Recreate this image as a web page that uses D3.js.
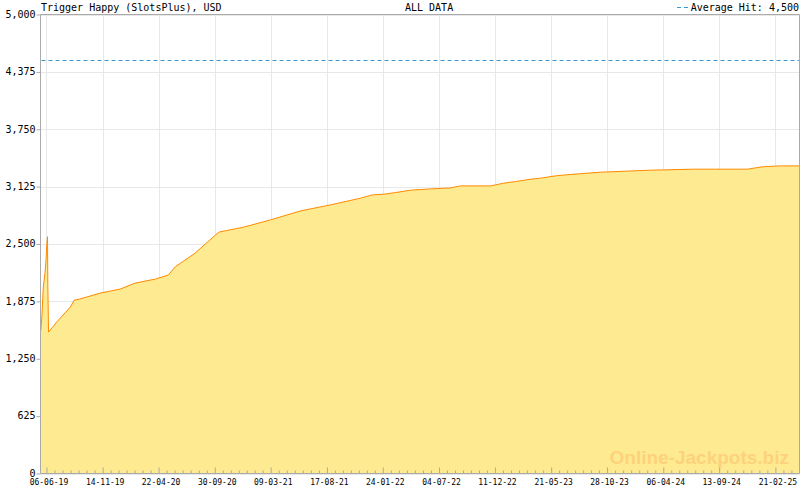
<!DOCTYPE html>
<html><head><meta charset="utf-8">
<script src="https://cdn.jsdelivr.net/npm/d3@7"></script>
<style>body{margin:0;background:#fff}svg{display:block}text{font-family:"DejaVu Sans Mono",monospace}</style>
</head><body><svg id="c" width="800" height="490"></svg>
<script>
const title = "Trigger Happy (SlotsPlus), USD";
const subtitle = "ALL DATA";
const avgLabel = "Average Hit: 4,500";
const avgValue = 4500;
const dates = ["2019-05-21","2019-05-24","2019-05-28","2019-06-02","2019-06-05","2019-06-07","2019-06-09","2019-06-10","2019-06-12",
"2019-07-05","2019-08-13","2019-08-25","2019-09-08","2019-09-28","2019-11-07","2020-01-03","2020-02-15","2020-04-13","2020-05-20",
"2020-06-09","2020-08-05","2020-10-02","2020-10-13","2020-12-21","2021-03-08","2021-06-02","2021-08-27","2021-11-21","2021-12-25",
"2022-01-26","2022-03-01","2022-04-13","2022-06-09","2022-08-06","2022-09-03","2022-11-29","2023-01-04","2023-02-08","2023-03-23",
"2023-04-20","2023-06-02","2023-07-01","2023-08-07","2023-10-09","2023-12-20","2024-02-29","2024-07-01","2024-12-03","2025-01-15",
"2025-03-07","2025-04-30"];
const values = [1560,1714,2031,2183,2336,2489,2580,2052,1540,
1648,1812,1889,1900,1921,1965,2009,2074,2118,2162,
2252,2402,2598,2631,2683,2762,2860,2926,2999,3035,
3042,3060,3086,3100,3111,3133,3133,3162,3180,3206,
3217,3242,3253,3264,3282,3293,3304,3315,3315,3341,
3351,3351];
const xTickLabels = ["06-06-19","14-11-19","22-04-20","30-09-20","09-03-21","17-08-21","24-01-22","04-07-22","11-12-22","21-05-23","28-10-23","06-04-24","13-09-24","21-02-25"];
const yTicks = [0,625,1250,1875,2500,3125,3750,4375,5000];

const svg = d3.select("#c");
const L=40.5, R=799.5, T=14.5, B=473.5;
const parse = d3.timeParse("%Y-%m-%d");
const parseTick = d3.timeParse("%d-%m-%y");
const data = dates.map((d,i)=>({d:parse(d), v:values[i]}));
const tickDates = xTickLabels.map(parseTick);
const x = d3.scaleTime().domain([parse("2019-05-20"), parse("2025-05-01")]).range([L,R]);
const y = d3.scaleLinear().domain([0,5000]).range([B,T]);

// grid
svg.append("g").selectAll("line").data(yTicks).join("line")
  .attr("x1",L).attr("x2",R).attr("y1",d=>Math.round(y(d))+0.5).attr("y2",d=>Math.round(y(d))+0.5)
  .attr("stroke","#e8e8e8");
svg.append("g").selectAll("line").data(tickDates).join("line")
  .attr("x1",d=>Math.round(x(d))+0.5).attr("x2",d=>Math.round(x(d))+0.5).attr("y1",T).attr("y2",B)
  .attr("stroke","#e8e8e8");

// area + line
const area = d3.area().x(d=>x(d.d)).y0(y(0)).y1(d=>y(d.v));
const line = d3.line().x(d=>x(d.d)).y(d=>y(d.v));
svg.append("path").datum(data).attr("d",area).attr("fill","#feea90");
svg.append("path").datum(data).attr("d",line).attr("fill","none").attr("stroke","#ff8a00").attr("stroke-width",1);

// watermark
svg.append("text").attr("x",789).attr("y",464).attr("text-anchor","end")
  .style("font-family","'Liberation Sans',Arial,sans-serif").style("font-weight","bold").style("font-size","19px")
  .attr("fill","#fdd27c").text("Online-Jackpots.biz");

// average line
svg.append("line").attr("x1",L+1).attr("x2",R).attr("y1",Math.round(y(avgValue))+0.5).attr("y2",Math.round(y(avgValue))+0.5)
  .attr("stroke","#3a9ad0").attr("stroke-dasharray","4,3");

// border
svg.append("path").attr("d",`M${L},${B}V${T}H${R}V${B}H${L}`).attr("fill","none").attr("stroke","#aaaaaa");

// y axis
const yAxis = d3.axisLeft(y).tickValues(yTicks).tickSize(4).tickSizeOuter(0).tickFormat(d3.format(","));
const gy = svg.append("g").attr("transform",`translate(${L},0)`).call(yAxis);
gy.select(".domain").remove();
gy.selectAll(".tick line").attr("stroke","#aaaaaa");
gy.selectAll("text").style("font-size","10px").style("font-family","'DejaVu Sans Mono',monospace").attr("fill","#000").attr("x",-5).attr("dy","0.28em");

// x axis major ticks (inward)
const minor = [];
for(let i=0;i<tickDates.length-1;i++){
  const a=x(tickDates[i]), b=x(tickDates[i+1]);
  for(let k=1;k<7;k++) minor.push(x.invert(a+(b-a)*k/7));
}
{
  const n=tickDates.length; const step=(x(tickDates[n-1])-x(tickDates[0]))/((n-1)*7);
  for(let p=x(tickDates[n-1])+step;p<R;p+=step) minor.push(x.invert(p));
}
const gxMinor = svg.append("g").attr("transform",`translate(0,${B})`)
  .call(d3.axisTop(x).tickValues(minor).tickSize(3).tickSizeOuter(0).tickFormat(""));
gxMinor.select(".domain").remove();
gxMinor.selectAll(".tick line").attr("stroke","#aaaaaa");
const gx = svg.append("g").attr("transform",`translate(0,${B})`)
  .call(d3.axisTop(x).tickValues(tickDates).tickSize(6).tickSizeOuter(0).tickFormat((d,i)=>xTickLabels[i]));
gx.select(".domain").remove();
gx.selectAll(".tick line").attr("stroke","#aaaaaa");
gx.selectAll("text").attr("y",11.5).attr("dy","0").attr("x",2).style("font-size","8px").style("font-family","'DejaVu Sans Mono',monospace").attr("fill","#000");

// titles
svg.append("text").attr("x",41).attr("y",11).style("font-size","10px").attr("fill","#000").text(title);
svg.append("text").attr("x",405).attr("y",11).style("font-size","10px").attr("fill","#000").text(subtitle);
svg.append("text").attr("x",799).attr("y",11).attr("text-anchor","end").style("font-size","10px").attr("fill","#000").text(avgLabel);
svg.append("line").attr("x1",677).attr("x2",691).attr("y1",7.5).attr("y2",7.5).attr("stroke","#3a9ad0").attr("stroke-dasharray","4,3");
</script></body></html>
